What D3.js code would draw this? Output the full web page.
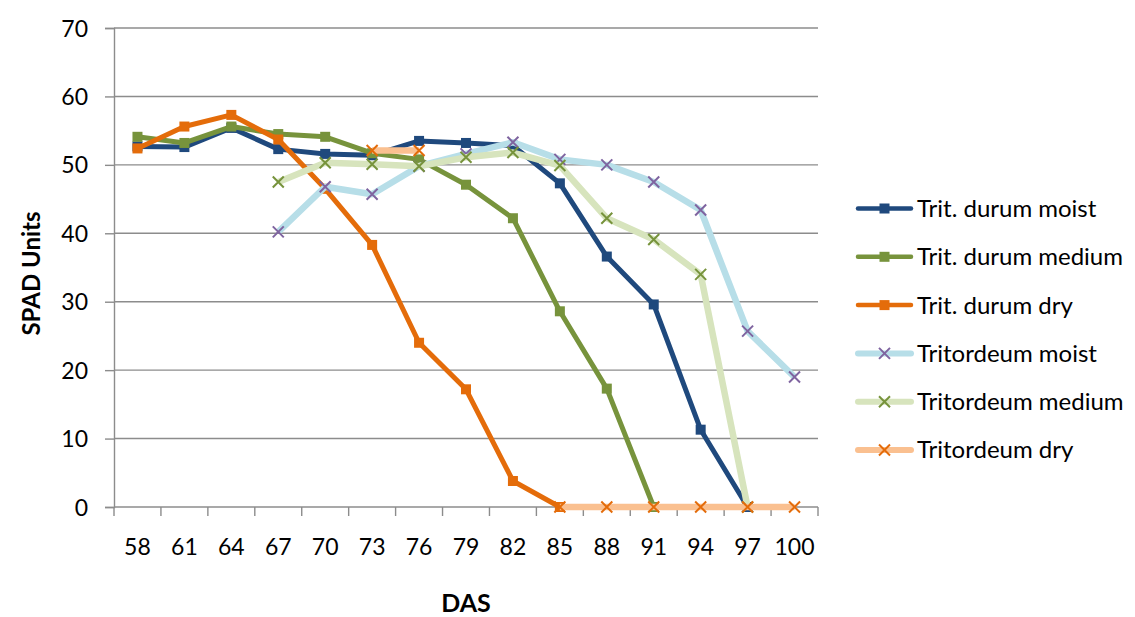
<!DOCTYPE html>
<html>
<head>
<meta charset="utf-8">
<script src="https://cdn.jsdelivr.net/npm/d3@7"></script>
<style>
  body { margin: 0; background: #fff; }
  svg text { font-family: Lato, "Open Sans", sans-serif; fill: #000; }
</style>
</head>
<body>
<div id="chart"></div>
<script>
// data
const days = [58, 61, 64, 67, 70, 73, 76, 79, 82, 85, 88, 91, 94, 97, 100];
const yTicks = [0, 10, 20, 30, 40, 50, 60, 70];

const durumMoist  = [52.7, 52.6, 55.4, 52.3, 51.6, 51.4, 53.5, 53.2, 52.8, 47.3, 36.6, 29.6, 11.3, 0, null];
const durumMedium = [54.1, 53.2, 55.6, 54.5, 54.1, 51.7, 50.8, 47.1, 42.2, 28.6, 17.3, 0, null, null, null];
const durumDry    = [52.4, 55.6, 57.3, 53.7, 46.5, 38.3, 24.0, 17.2, 3.8, 0, null, null, null, null, null];
const tritMoist   = [null, null, null, 40.2, 46.8, 45.7, 49.8, 51.6, 53.3, 50.8, 50.0, 47.5, 43.4, 25.7, 19.0];
const tritMedium  = [null, null, null, 47.5, 50.3, 50.1, 49.8, 51.1, 51.8, 49.9, 42.2, 39.1, 34.0, 0, null];
const tritDry     = [null, null, null, null, null, 52.1, 52.1, null, null, 0, 0, 0, 0, 0, 0];

const series = [
  { name: "Trit. durum moist",  values: durumMoist,  line: "#1F497D", mark: "#1F497D", shape: "square", w: 5 },
  { name: "Trit. durum medium", values: durumMedium, line: "#77933C", mark: "#77933C", shape: "square", w: 5 },
  { name: "Trit. durum dry",    values: durumDry,    line: "#E46C0A", mark: "#E46C0A", shape: "square", w: 5 },
  { name: "Tritordeum moist",   values: tritMoist,   line: "#B7DEE8", mark: "#7F64A0", shape: "x", w: 6.5 },
  { name: "Tritordeum medium",  values: tritMedium,  line: "#D7E4BD", mark: "#77933C", shape: "x", w: 6.5 },
  { name: "Tritordeum dry",     values: tritDry,     line: "#FAC090", mark: "#E46C0A", shape: "x", w: 6.5 }
];

const W = 1135, H = 617;
const plot = { left: 114, right: 818, top: 28, bottom: 507 };

const svg = d3.select("#chart").append("svg")
    .attr("width", W)
    .attr("height", H);

const x = d3.scaleBand()
    .domain(days)
    .range([plot.left, plot.right]);

const y = d3.scaleLinear()
    .domain([0, 70])
    .range([plot.bottom, plot.top]);

// gridlines
svg.append("g")
    .selectAll("line")
    .data(yTicks.filter(d => d > 0))
    .enter().append("line")
    .attr("x1", plot.left)
    .attr("x2", plot.right)
    .attr("y1", d => y(d))
    .attr("y2", d => y(d))
    .attr("stroke", "#8c8c8c")
    .attr("stroke-width", 1.4);

// y axis
const yAxis = svg.append("g")
    .attr("transform", `translate(${plot.left},0)`)
    .call(d3.axisLeft(y).tickValues(yTicks).tickSize(9).tickPadding(17));
yAxis.select(".domain").attr("stroke", "#8c8c8c").attr("stroke-width", 1.4);
yAxis.selectAll(".tick line").attr("stroke", "#8c8c8c").attr("stroke-width", 1.4);
yAxis.selectAll("text").style("font-size", "23px").attr("dy", "0.35em");

// x axis: labels centred in bands, ticks on band edges
const xAxis = svg.append("g")
    .attr("transform", `translate(0,${plot.bottom})`)
    .call(d3.axisBottom(x).tickSize(0).tickPadding(32));
xAxis.select(".domain").remove();
xAxis.selectAll("text").style("font-size", "23px");

svg.append("line")
    .attr("x1", plot.left).attr("x2", plot.right)
    .attr("y1", plot.bottom).attr("y2", plot.bottom)
    .attr("stroke", "#8c8c8c").attr("stroke-width", 1.4);

svg.append("g")
    .selectAll("line")
    .data(days.map(d => x(d)).concat([plot.right]))
    .enter().append("line")
    .attr("x1", d => d).attr("x2", d => d)
    .attr("y1", plot.bottom).attr("y2", plot.bottom + 9)
    .attr("stroke", "#8c8c8c").attr("stroke-width", 1.4);

// axis titles
svg.append("text")
    .attr("x", (plot.left + plot.right) / 2)
    .attr("y", 612)
    .attr("text-anchor", "middle")
    .style("font-size", "25px")
    .style("font-weight", "bold")
    .text("DAS");

svg.append("text")
    .attr("transform", `translate(40,${(plot.top + plot.bottom) / 2 + 6}) rotate(-90)`)
    .attr("text-anchor", "middle")
    .style("font-size", "24px")
    .style("font-weight", "bold")
    .text("SPAD Units");

// series
const cx = i => x(days[i]) + x.bandwidth() / 2;
const line = d3.line()
    .defined(d => d != null)
    .x((d, i) => cx(i))
    .y(d => y(d));

function drawMarker(g, s, px, py) {
    if (s.shape === "square") {
        g.append("rect")
            .attr("x", px - 5).attr("y", py - 5)
            .attr("width", 10).attr("height", 10)
            .attr("fill", s.mark);
    } else {
        const r = 5.5;
        g.append("path")
            .attr("d", `M${px - r},${py - r}L${px + r},${py + r}M${px - r},${py + r}L${px + r},${py - r}`)
            .attr("stroke", s.mark)
            .attr("stroke-width", 2)
            .attr("fill", "none");
    }
}

series.forEach(s => {
    const g = svg.append("g");
    g.append("path")
        .attr("d", line(s.values))
        .attr("fill", "none")
        .attr("stroke", s.line)
        .attr("stroke-width", s.w)
        .attr("stroke-linejoin", "round");
    s.values.forEach((v, i) => {
        if (v != null) drawMarker(g, s, cx(i), y(v));
    });
});

// legend
const legend = svg.append("g");
series.forEach((s, i) => {
    const ly = 208.5 + i * 48.3;
    const g = legend.append("g");
    g.append("line")
        .attr("x1", 858).attr("x2", 911)
        .attr("y1", ly).attr("y2", ly)
        .attr("stroke", s.line)
        .attr("stroke-width", s.w - 0.5)
        .attr("stroke-linecap", "round");
    drawMarker(g, s, 884.5, ly);
    g.append("text")
        .attr("x", 917)
        .attr("y", ly)
        .attr("dy", "0.35em")
        .style("font-size", "24px")
        .text(s.name);
});
</script>
</body>
</html>
